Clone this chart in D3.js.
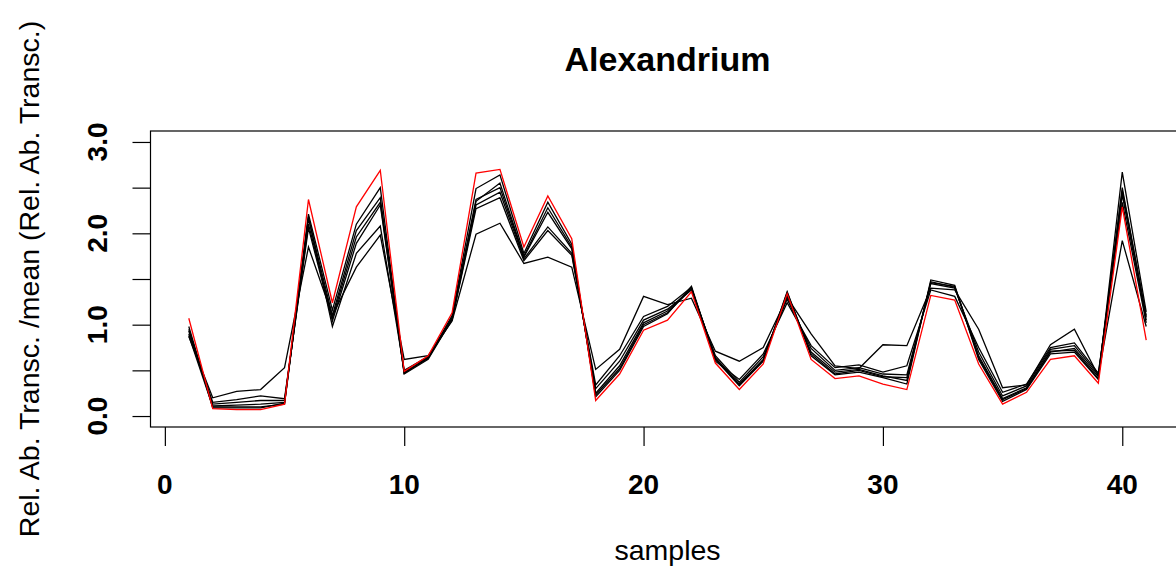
<!DOCTYPE html>
<html>
<head>
<meta charset="utf-8">
<script src="https://cdn.jsdelivr.net/npm/d3@7.9.0/dist/d3.min.js"></script>
<style>
  html, body { margin: 0; padding: 0; background: #fff; }
  svg { display: block; font-family: "Liberation Sans", Arial, sans-serif; }
</style>
</head>
<body>
<svg width="1176" height="572"></svg>
<script>
const samples = d3.range(1, 42);

const line1 = [0.98, 0.09, 0.09, 0.09, 0.14, 2.21, 1.16, 2.10, 2.50, 0.47, 0.64, 1.10, 2.49, 2.64, 1.78, 2.34, 1.88, 0.21, 0.50, 0.98, 1.12, 1.42, 0.62, 0.33, 0.60, 1.36, 0.66, 0.45, 0.48, 0.42, 0.35, 1.49, 1.43, 0.62, 0.16, 0.29, 0.68, 0.70, 0.40, 2.67, 1.14];
const line2 = [0.95, 0.11, 0.12, 0.13, 0.15, 2.16, 1.10, 2.03, 2.39, 0.48, 0.63, 1.08, 2.37, 2.50, 1.74, 2.23, 1.83, 0.25, 0.55, 1.02, 1.15, 1.40, 0.64, 0.35, 0.62, 1.32, 0.70, 0.48, 0.51, 0.44, 0.39, 1.47, 1.41, 0.66, 0.19, 0.31, 0.70, 0.74, 0.43, 2.50, 1.08];
const line3 = [0.93, 0.13, 0.15, 0.17, 0.17, 2.10, 1.07, 1.96, 2.34, 0.46, 0.62, 1.06, 2.31, 2.45, 1.72, 2.07, 1.78, 0.30, 0.60, 1.05, 1.17, 1.38, 0.66, 0.37, 0.65, 1.28, 0.74, 0.50, 0.53, 0.46, 0.45, 1.45, 1.40, 0.70, 0.22, 0.33, 0.73, 0.77, 0.45, 2.42, 1.05];
const line4 = [0.90, 0.15, 0.18, 0.22, 0.19, 2.06, 1.04, 1.89, 2.31, 0.47, 0.64, 1.05, 2.27, 2.39, 1.70, 2.03, 1.76, 0.34, 0.66, 1.09, 1.20, 1.41, 0.60, 0.40, 0.68, 1.24, 0.77, 0.53, 0.56, 0.48, 0.55, 1.38, 1.31, 0.75, 0.26, 0.35, 0.75, 0.80, 0.47, 2.34, 1.02];
const line5 = [0.88, 0.10, 0.10, 0.10, 0.13, 2.18, 0.98, 1.78, 2.08, 0.50, 0.65, 1.07, 2.35, 2.55, 1.75, 2.28, 1.85, 0.23, 0.52, 1.00, 1.13, 1.39, 0.63, 0.34, 0.61, 1.35, 0.68, 0.46, 0.50, 0.43, 0.42, 1.46, 1.42, 0.64, 0.18, 0.30, 0.71, 0.72, 0.41, 2.47, 1.10];
const line6 = [0.87, 0.20, 0.27, 0.29, 0.53, 1.85, 1.10, 1.63, 1.98, 0.62, 0.66, 1.04, 1.99, 2.11, 1.67, 1.74, 1.63, 0.51, 0.73, 1.31, 1.22, 1.29, 0.71, 0.60, 0.75, 1.30, 0.90, 0.55, 0.52, 0.78, 0.77, 1.40, 1.38, 0.95, 0.31, 0.34, 0.78, 0.95, 0.44, 1.92, 0.98];
const lineRed = [1.07, 0.08, 0.07, 0.07, 0.13, 2.37, 1.24, 2.29, 2.69, 0.49, 0.66, 1.13, 2.66, 2.70, 1.85, 2.41, 1.94, 0.17, 0.46, 0.94, 1.05, 1.36, 0.58, 0.29, 0.57, 1.34, 0.62, 0.41, 0.44, 0.35, 0.29, 1.32, 1.27, 0.57, 0.13, 0.26, 0.62, 0.66, 0.36, 2.29, 0.83];

const blackLines = [line1, line2, line3, line4, line5, line6];
const xTicks = [0, 10, 20, 30, 40];
const yTicks = [0, 0.5, 1, 1.5, 2, 2.5, 3];
const yLabels = [0, 1, 2, 3];

const svg = d3.select('svg');

const x = d3.scaleLinear().domain([-0.6, 42.6]).range([150.5, 1184.5]);
const y = d3.scaleLinear().domain([-0.12, 3.12]).range([427, 131]);

const line = d3.line()
  .x((d, i) => x(samples[i]))
  .y(d => y(d));

// plot box (right side runs off the page like the original)
svg.append('rect')
  .attr('x', x.range()[0])
  .attr('y', y.range()[1])
  .attr('width', x.range()[1] - x.range()[0])
  .attr('height', y.range()[0] - y.range()[1])
  .attr('fill', 'none')
  .attr('stroke', '#000')
  .attr('stroke-width', 1.2);

blackLines.forEach(vals => {
  svg.append('path')
    .attr('d', line(vals))
    .attr('fill', 'none')
    .attr('stroke', '#000')
    .attr('stroke-width', 1.3);
});

svg.append('path')
  .attr('d', line(lineRed))
  .attr('fill', 'none')
  .attr('stroke', '#ff0000')
  .attr('stroke-width', 1.3);

// x axis
const xAxis = svg.append('g')
  .attr('transform', `translate(0,${y.range()[0]})`)
  .call(d3.axisBottom(x).tickValues(xTicks).tickSize(19).tickPadding(0).tickFormat(''));
xAxis.select('.domain').remove();
xAxis.selectAll('line').attr('stroke', '#000').attr('stroke-width', 1.2);

svg.selectAll('.xlab')
  .data(xTicks)
  .join('text')
  .attr('x', d => x(d))
  .attr('y', 494)
  .attr('text-anchor', 'middle')
  .attr('font-size', 28)
  .attr('font-weight', 'bold')
  .text(d => d);

// y axis
const yAxis = svg.append('g')
  .attr('transform', `translate(${x.range()[0]},0)`)
  .call(d3.axisLeft(y).tickValues(yTicks).tickSize(18).tickFormat(''));
yAxis.select('.domain').remove();
yAxis.selectAll('line').attr('stroke', '#000').attr('stroke-width', 1.2);

svg.selectAll('.ylab')
  .data(yLabels)
  .join('text')
  .attr('transform', d => `translate(107,${y(d)}) rotate(-90)`)
  .attr('text-anchor', 'middle')
  .attr('font-size', 28)
  .attr('font-weight', 'bold')
  .text(d => d3.format('.1f')(d));

// titles
svg.append('text')
  .attr('x', (x.range()[0] + x.range()[1]) / 2)
  .attr('y', 71)
  .attr('text-anchor', 'middle')
  .attr('font-size', 34)
  .attr('font-weight', 'bold')
  .text('Alexandrium');

svg.append('text')
  .attr('x', (x.range()[0] + x.range()[1]) / 2)
  .attr('y', 560)
  .attr('text-anchor', 'middle')
  .attr('font-size', 28.5)
  .text('samples');

svg.append('text')
  .attr('transform', `translate(39,${(y.range()[0] + y.range()[1]) / 2}) rotate(-90)`)
  .attr('text-anchor', 'middle')
  .attr('font-size', 28.5)
  .text('Rel. Ab. Transc. /mean (Rel. Ab. Transc.)');
</script>
</body>
</html>
